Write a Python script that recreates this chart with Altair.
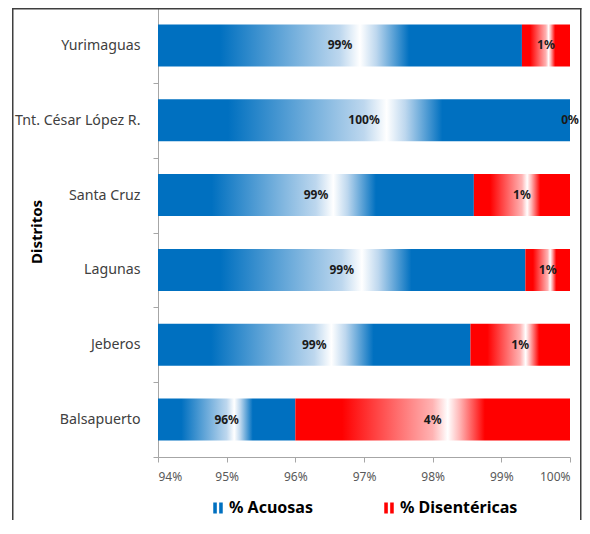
import altair as alt
import pandas as pd

# ---- data ----
distritos = ["Yurimaguas", "Tnt. César López R.", "Santa Cruz", "Lagunas", "Jeberos", "Balsapuerto"]
acuosas = [99.30, 100.00, 98.60, 99.35, 98.55, 96.00]
disentericas = [0.70, 0.00, 1.40, 0.65, 1.45, 4.00]
series = ["% Acuosas", "% Disentéricas"]
x_ticks = [94, 95, 96, 97, 98, 99, 100]
X_MIN = 94
X_MAX = 100

rows = []
for d, a, s in zip(distritos, acuosas, disentericas):
    rows.append({"distrito": d, "serie": series[0], "start": X_MIN, "end": a,
                 "mid": (X_MIN + a) / 2, "label": f"{round(a)}%"})
    rows.append({"distrito": d, "serie": series[1], "start": a, "end": a + s,
                 "mid": (a + a + s) / 2, "label": f"{round(s)}%"})
df = pd.DataFrame(rows)

FONT = "Noto Sans"
BLUE = "#0070C0"
RED = "#FF0000"
PLOT_H = 449
FRAME = "#3F3F3F"


def grad(solid, light):
    stops = [(0.0, solid), (0.17, solid), (0.50, light), (0.555, "#FFFFFF"),
             (0.60, light), (0.69, solid), (1.0, solid)]
    return alt.Gradient(gradient="linear", x1=0, x2=1, y1=0, y2=0,
                        stops=[alt.GradientStop(offset=o, color=c) for o, c in stops])


x_axis = alt.Axis(values=x_ticks, labelExpr="datum.value + '%'", grid=False, title=None,
                  tickSize=5, labelFontSize=12, labelColor="#595959", labelFont=FONT,
                  domainColor="#A6A6A6", tickColor="#A6A6A6", labelPadding=9)
x_scale = alt.Scale(domain=[X_MIN, X_MAX], nice=False, zero=False)

y_enc = alt.Y("distrito:N", sort=distritos, title="Distritos",
              scale=alt.Scale(paddingInner=0, paddingOuter=0),
              axis=alt.Axis(tickBand="extent", labelFontSize=14.2, labelFont=FONT,
                            labelColor="#404040", labelPadding=13, tickSize=5,
                            tickColor="#A6A6A6", domainColor="#A6A6A6",
                            titleFont=FONT, titleFontSize=15, titleFontWeight="bold",
                            titleColor="#000000", titleX=-114, titleY=PLOT_H / 2 - 1,
                            titleAngle=270, titleBaseline="bottom", titleAlign="center"))

one = pd.DataFrame({"k": [0]})
frame_left = alt.Chart(one).mark_rect(fill=FRAME).encode(
    x=alt.value(-146), x2=alt.value(-144.5), y=alt.value(0), y2=alt.value(530))
frame_right = alt.Chart(one).mark_rect(fill=FRAME).encode(
    x=alt.value(422), x2=alt.value(423.5), y=alt.value(0), y2=alt.value(530))
frame_top = alt.Chart(one).mark_rect(fill=FRAME).encode(
    x=alt.value(-146), x2=alt.value(423.5), y=alt.value(0), y2=alt.value(1.5))

base = alt.Chart(df)
BAR_H = alt.RelativeBandSize(band=0.562)

bars_a = base.transform_filter(alt.datum.serie == series[0]).mark_bar(
    color=grad(BLUE, "#BDD7EE"), height=BAR_H
).encode(y=y_enc, x=alt.X("start:Q", scale=x_scale, axis=x_axis), x2="end:Q")

bars_d = base.transform_filter(alt.datum.serie == series[1]).mark_bar(
    color=grad(RED, "#FFB3B3"), height=BAR_H
).encode(y=y_enc, x=alt.X("start:Q", scale=x_scale, axis=x_axis), x2="end:Q")

labels = base.mark_text(font=FONT, fontSize=12, fontWeight="bold", color="#1A1A1A").encode(
    y=y_enc, x=alt.X("mid:Q", scale=x_scale, axis=x_axis), text="label:N"
)

legend_layer = base.mark_point(filled=True, opacity=0).encode(
    y=y_enc,
    x=alt.X("mid:Q", scale=x_scale, axis=x_axis),
    color=alt.Color("serie:N", scale=alt.Scale(domain=series, range=[BLUE, RED]),
                    legend=alt.Legend(orient="none", legendX=52, legendY=492,
                                      direction="horizontal", title=None,
                                      symbolType="M-1,-1.15H-0.25V1.15H-1Z M0.25,-1.15H1V1.15H0.25Z",
                                      symbolSize=90, symbolOpacity=1, symbolStrokeWidth=0,
                                      labelFontSize=16, labelFontWeight="bold", labelFont=FONT,
                                      labelColor="#000000", columnPadding=68, labelOffset=3,
                                      padding=0)),
)

chart = alt.layer(frame_left, frame_right, frame_top, bars_a, bars_d, labels, legend_layer).properties(
    width=412, height=PLOT_H, autosize="none",
    padding={"left": 150, "top": 0, "right": 12, "bottom": 63},
).configure_view(stroke=None)

chart.save("out.html", embed_options={"renderer": "svg", "actions": False})
